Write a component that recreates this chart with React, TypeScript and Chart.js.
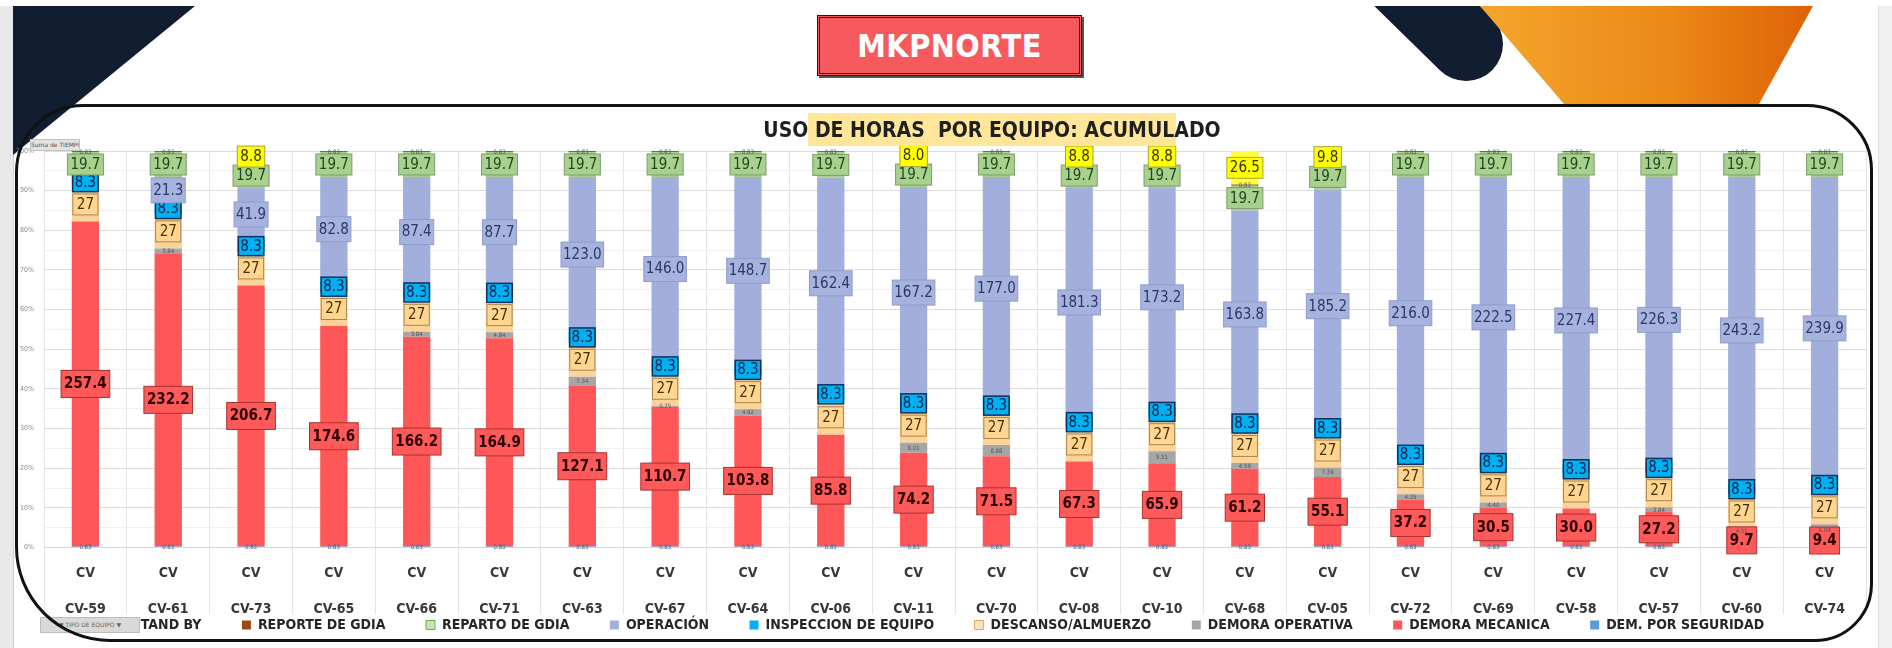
import React, { useEffect, useRef } from "react";
import { Chart, registerables } from "chart.js";

Chart.register(...registerables);

// ---------------- DATA ----------------
const TIPO = "CV";
const EQUIPOS = [
  "CV-59", "CV-61", "CV-73", "CV-65", "CV-66", "CV-71", "CV-63", "CV-67", "CV-64", "CV-06", "CV-11",
  "CV-70", "CV-08", "CV-10", "CV-68", "CV-05", "CV-72", "CV-69", "CV-58", "CV-57", "CV-60", "CV-74",
];
const STAND_BY = [0, 0, 8.8, 0, 0, 0, 0, 0, 0, 0, 8.0, 0, 8.8, 8.8, 26.5, 9.8, 0, 0, 0, 0, 0, 0];
const REPORTE_GDIA = [0.83, 0.83, 0.83, 0.83, 0.83, 0.83, 0.83, 0.83, 0.83, 0.83, 0.83, 0.83, 0.83, 0.83, 0.83, 0.83, 0.83, 0.83, 0.83, 0.83, 0.83, 0.83];
const REPARTO_GDIA = [19.7, 19.7, 19.7, 19.7, 19.7, 19.7, 19.7, 19.7, 19.7, 19.7, 19.7, 19.7, 19.7, 19.7, 19.7, 19.7, 19.7, 19.7, 19.7, 19.7, 19.7, 19.7];
const OPERACION = [0, 21.3, 41.9, 82.8, 87.4, 87.7, 123.0, 146.0, 148.7, 162.4, 167.2, 177.0, 181.3, 173.2, 163.8, 185.2, 216.0, 222.5, 227.4, 226.3, 243.2, 239.9];
const INSPECCION = [8.3, 8.3, 8.3, 8.3, 8.3, 8.3, 8.3, 8.3, 8.3, 8.3, 8.3, 8.3, 8.3, 8.3, 8.3, 8.3, 8.3, 8.3, 8.3, 8.3, 8.3, 8.3];
const DESCANSO = [27, 27, 27, 27, 27, 27, 27, 27, 27, 27, 27, 27, 27, 27, 27, 27, 27, 27, 27, 27, 27, 27];
const DEMORA_OPERATIVA = [0, 3.84, 0, 0, 3.84, 4.84, 7.34, 0.75, 4.92, 0, 8.01, 8.88, 0, 9.51, 4.59, 7.39, 4.25, 4.4, 0, 3.84, 4.51, 8.09];
const DEMORA_MECANICA = [257.4, 232.2, 206.7, 174.6, 166.2, 164.9, 127.1, 110.7, 103.8, 85.8, 74.2, 71.5, 67.3, 65.9, 61.2, 55.1, 37.2, 30.5, 30.0, 27.2, 9.7, 9.4];
const DEM_SEGURIDAD = [0.83, 0.83, 0.83, 0.83, 0.83, 0.83, 0.83, 0.83, 0.83, 0.83, 0.83, 0.83, 0.83, 0.83, 0.83, 0.83, 0.83, 0.83, 0.83, 0.83, 0.83, 0.83];

const CHART_TITLE = "USO DE HORAS  POR EQUIPO: ACUMULADO";
const PAGE_TITLE = "MKPNORTE";

// ---------------- STYLE ----------------
const FONT = "'Liberation Sans Narrow', 'DejaVu Sans Condensed', 'Open Sans', sans-serif";

type LabelStyle = {
  dec: number; size: number; bold?: boolean; color: string;
  bg?: string; border?: string; bw?: number; padX?: number; padY?: number;
};

const TINY: LabelStyle = { dec: 2, size: 6, color: "#555555" };

// stacking order bottom -> top
const SERIES: {
  name: string; values: number[]; color: string; legendFill: string; legendStroke?: string; label: LabelStyle;
}[] = [
  { name: "DEM. POR SEGURIDAD", values: DEM_SEGURIDAD, color: "#5B9BD5", legendFill: "#5B9BD5", label: { ...TINY, color: "#3a5f8a" } },
  { name: "DEMORA MECANICA", values: DEMORA_MECANICA, color: "#FF5757", legendFill: "#FF5757",
    label: { dec: 1, size: 15, bold: true, color: "#2a0000", bg: "#FF5A5A", border: "#a83232", bw: 1, padX: 3, padY: 6 } },
  { name: "DEMORA OPERATIVA", values: DEMORA_OPERATIVA, color: "#A6A6A6", legendFill: "#A6A6A6", label: TINY },
  { name: "DESCANSO/ALMUERZO", values: DESCANSO, color: "#FCD49A", legendFill: "#FCE3BD", legendStroke: "#D9A860",
    label: { dec: 0, size: 15, color: "#4a3000", bg: "#FFD591", border: "#a8854f", bw: 1, padX: 4, padY: 3 } },
  { name: "INSPECCION DE EQUIPO", values: INSPECCION, color: "#00B0F0", legendFill: "#00B0F0",
    label: { dec: 1, size: 15, color: "#0c2350", bg: "#00B0F0", border: "#13305f", bw: 1.5, padX: 2, padY: 2 } },
  { name: "OPERACIÓN", values: OPERACION, color: "#A2AFDD", legendFill: "#A2AFDD",
    label: { dec: 1, size: 15, color: "#2b3764", bg: "#A6B3DF", border: "#8f9dcc", bw: 1, padX: 2, padY: 5 } },
  { name: "REPARTO DE GDIA", values: REPARTO_GDIA, color: "#A9D18E", legendFill: "#C9E3B8", legendStroke: "#70AD47",
    label: { dec: 1, size: 15, color: "#1e4620", bg: "#A9D18E", border: "#7d9b6b", bw: 1, padX: 3, padY: 3 } },
  { name: "REPORTE DE GDIA", values: REPORTE_GDIA, color: "#9C5A2A", legendFill: "#9C4A12", label: TINY },
  { name: "STAND BY", values: STAND_BY, color: "#FFFF3A", legendFill: "#FFFF00",
    label: { dec: 1, size: 15, color: "#333300", bg: "#FFFF00", border: "#a6a63a", bw: 1, padX: 3, padY: 3 } },
];

const segmentLabels = {
  id: "segmentLabels",
  afterDatasetsDraw(chart: any) {
    const { ctx } = chart;
    ctx.save();
    chart.data.datasets.forEach((ds: any, di: number) => {
      const meta = chart.getDatasetMeta(di);
      if (meta.hidden) return;
      const st: LabelStyle = ds.labelStyle;
      meta.data.forEach((el: any, i: number) => {
        const raw = ds.rawValues[i];
        if (!raw) return;
        const { x, y, base } = el.getProps(["x", "y", "base"], true);
        const cy = (y + base) / 2;
        const txt = raw.toFixed(st.dec);
        ctx.font = `${st.bold ? "bold " : ""}${st.size}px ${FONT}`;
        ctx.textAlign = "center";
        ctx.textBaseline = "middle";
        if (st.bg) {
          const w = ctx.measureText(txt).width + (st.padX || 0) * 2;
          const h = st.size + (st.padY || 0) * 2;
          ctx.fillStyle = st.bg;
          ctx.fillRect(x - w / 2, cy - h / 2, w, h);
          ctx.lineWidth = st.bw || 1;
          ctx.strokeStyle = st.border || st.bg;
          ctx.strokeRect(x - w / 2, cy - h / 2, w, h);
        }
        ctx.fillStyle = st.color;
        ctx.fillText(txt, x, cy + 0.5);
      });
    });
    ctx.restore();
  },
};

function ChartCanvas() {
  const ref = useRef<HTMLCanvasElement | null>(null);
  useEffect(() => {
    if (!ref.current) return;
    const totals = EQUIPOS.map((_, i) => SERIES.reduce((s, se) => s + se.values[i], 0));
    const datasets = SERIES.map((s) => ({
      label: s.name,
      data: s.values.map((v, i) => (v / totals[i]) * 100),
      rawValues: s.values,
      labelStyle: s.label,
      backgroundColor: s.color,
      borderWidth: 0,
      categoryPercentage: 0.33,
      barPercentage: 1,
    }));
    const chart = new Chart(ref.current, {
      type: "bar",
      data: { labels: EQUIPOS.map((e) => [TIPO, "", e]), datasets: datasets as any },
      options: {
        animation: false,
        responsive: false,
        maintainAspectRatio: false,
        layout: { padding: { left: 14, right: 26, top: 151, bottom: 6 } },
        scales: {
          x: {
            stacked: true,
            grid: { offset: true, color: "#e6e6e6", tickColor: "#e3e3e3", tickLength: 66 },
            border: { color: "#d6d6d6" },
            ticks: {
              autoSkip: false, maxRotation: 0, mirror: true, padding: -35, color: "#383838",
              font: { family: FONT, size: 14, weight: "bold", lineHeight: 1.286 },
            },
            afterFit: (s: any) => { s.height = 30; },
          } as any,
          y: {
            stacked: true, min: 0, max: 100,
            ticks: {
              stepSize: 5, padding: 10, color: "#8a8a8a", font: { family: FONT, size: 7 },
              callback: (v: any) => (Number(v) % 10 === 0 ? `${v}%` : ""),
            },
            grid: {
              drawTicks: false,
              color: (c: any) => (c.tick && c.tick.value % 10 === 0 ? "#dcdcdc" : "#efefef"),
            },
            border: { display: false },
            afterFit: (s: any) => { s.width = 30; },
          } as any,
        },
        plugins: {
          tooltip: { enabled: false },
          legend: {
            position: "bottom",
            reverse: true,
            labels: {
              boxWidth: 9, boxHeight: 9, padding: 40.5, color: "#262626",
              font: { family: FONT, size: 14, weight: "bold" },
              generateLabels: (ch: any) => {
                const items = (Chart.defaults.plugins.legend.labels as any).generateLabels(ch);
                items.forEach((it: any) => {
                  const s = SERIES[it.datasetIndex];
                  it.fillStyle = s.legendFill;
                  it.strokeStyle = s.legendStroke || s.legendFill;
                  it.lineWidth = s.legendStroke ? 1 : 0;
                });
                return items;
              },
            },
          },
        },
      },
      plugins: [segmentLabels],
    });
    return () => chart.destroy();
  }, []);
  return (
    <canvas ref={ref} width={1892} height={648}
      style={{ position: "absolute", left: 0, top: 0, width: 1892, height: 648 }} />
  );
}

export default function App() {
  useEffect(() => {
    document.body.style.margin = "0";
  }, []);
  return (
    <div style={{ position: "relative", width: 1892, height: 648, background: "#ffffff", overflow: "hidden", fontFamily: FONT }}>
      <div style={{ position: "absolute", left: 0, top: 6, width: 13, height: 642, background: "#e9e9e9", borderRight: "1px solid #d4d4d4" }} />
      <div style={{ position: "absolute", left: 1878, top: 6, width: 14, height: 642, background: "#efefef", borderLeft: "1px solid #dedede" }} />
      <svg width={1892} height={648} style={{ position: "absolute", left: 0, top: 0 }}>
        <defs>
          <linearGradient id="orangeGrad" x1="0" x2="1" y1="0" y2="0">
            <stop offset="0" stopColor="#F4A62C" />
            <stop offset="0.55" stopColor="#EC8A17" />
            <stop offset="1" stopColor="#DD6206" />
          </linearGradient>
          <clipPath id="topClip">
            <rect x={0} y={6} width={1892} height={642} />
          </clipPath>
        </defs>
        <g clipPath="url(#topClip)">
          <polygon points="13,6 195,6 13,155" fill="#111d30" />
          <line x1={1370} y1={-50} x2={1466} y2={44} stroke="#111d30" strokeWidth={74} strokeLinecap="round" />
          <polygon points="1480,6 1813,6 1759,104 1564,104" fill="url(#orangeGrad)" />
        </g>
      </svg>
      <div style={{
        position: "absolute", left: 817, top: 15, width: 259, height: 55, background: "#F65A5E",
        border: "3px double #1a1a1a", boxShadow: "2px 2px 0 #555", display: "flex", alignItems: "center",
        justifyContent: "center", color: "#ffffff", fontWeight: "bold", fontSize: 32, letterSpacing: 0.5,
      }}>{PAGE_TITLE}</div>
      <ChartCanvas />
      <div style={{
        position: "absolute", left: 808, top: 113, width: 368, height: 33, background: "#FFE699",
        display: "flex", alignItems: "center", justifyContent: "center", color: "#1f1f1f",
        fontWeight: "bold", fontSize: 21, whiteSpace: "pre",
      }}>{CHART_TITLE}</div>
      <div style={{
        position: "absolute", left: 30, top: 139, width: 48, height: 10, background: "#e2e2e2",
        border: "1px solid #c4c4c4", fontSize: 6, lineHeight: "10px", color: "#555", whiteSpace: "nowrap", overflow: "hidden",
        fontFamily: "'DejaVu Sans', sans-serif",
      }}>Suma de TIEMPO</div>
      <div style={{
        position: "absolute", left: 40, top: 617, width: 98, height: 14, background: "#d9d9d9",
        border: "1px solid #bcbcbc", fontSize: 6, lineHeight: "14px", color: "#666", whiteSpace: "nowrap",
        overflow: "hidden", textAlign: "center", fontFamily: "'DejaVu Sans', sans-serif",
      }}>▼ TIPO DE EQUIPO ▼</div>
      <div style={{
        position: "absolute", left: 15, top: 104, width: 1852, height: 532, border: "3px solid #111111",
        borderRadius: "68px 66px 58px 95px", pointerEvents: "none",
      }} />
    </div>
  );
}
